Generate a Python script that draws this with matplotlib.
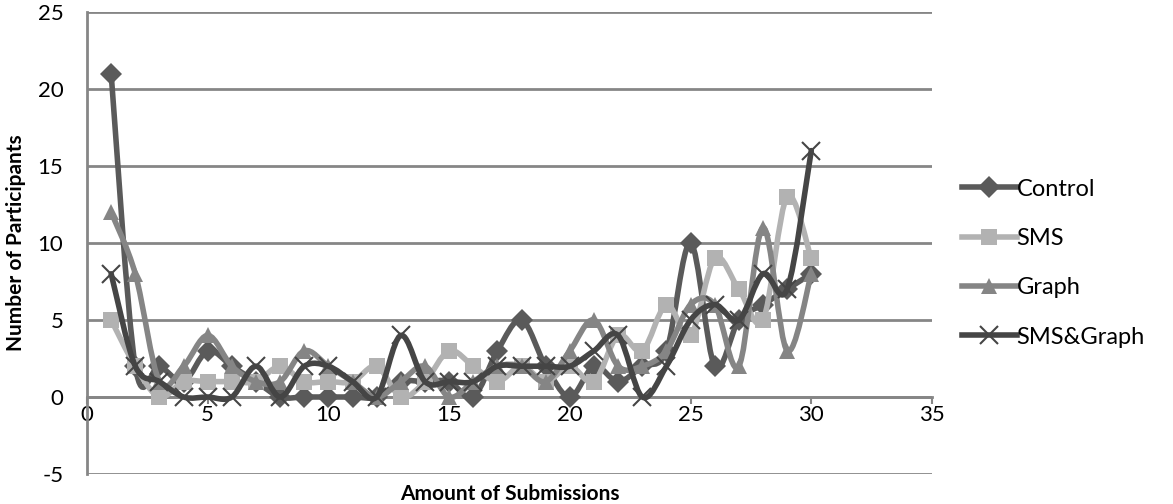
import matplotlib
matplotlib.use('Agg')
import matplotlib.pyplot as plt
from matplotlib.path import Path
from matplotlib.patches import PathPatch
from matplotlib.lines import Line2D

submissions = list(range(1, 31))
control = [21, 2, 2, 1, 3, 2, 1, 0, 0, 0, 0, 0, 1, 1, 1, 0, 3, 5, 2, 0,
           2, 1, 2, 3, 10, 2, 5, 6, 7, 8]
sms = [5, 2, 0, 1, 1, 1, 1, 2, 1, 1, 1, 2, 0, 1, 3, 2, 1, 2, 1, 2,
       1, 4, 3, 6, 4, 9, 7, 5, 13, 9]
graph = [12, 8, 1, 2, 4, 2, 1, 1, 3, 2, 1, 0, 1, 2, 0, 1, 2, 2, 1, 3,
         5, 2, 2, 3, 6, 6, 2, 11, 3, 8]
sms_graph = [8, 2, 1, 0, 0, 0, 2, 0, 2, 2, 1, 0, 4, 1, 1, 1, 2, 2, 2, 2,
             3, 4, 0, 2, 5, 6, 5, 8, 7, 16]

series_names = ['Control', 'SMS', 'Graph', 'SMS&Graph']
series_values = [control, sms, graph, sms_graph]
colors = ['#5a5a5a', '#b2b2b2', '#858585', '#454545']
markers = ['D', 's', '^', 'x']
msizes = [11, 11, 12, 13]

plt.rcParams['font.family'] = ['Lato', 'DejaVu Sans']
plt.rcParams['axes.unicode_minus'] = False


def smooth_path(xs, ys):
    n = len(xs)
    verts = [(xs[0], ys[0])]
    codes = [Path.MOVETO]
    for i in range(n - 1):
        a = i - 1 if i > 0 else i
        d = i + 2 if i + 2 < n else i + 1
        c1 = (xs[i] + (xs[i + 1] - xs[a]) / 6.0, ys[i] + (ys[i + 1] - ys[a]) / 6.0)
        c2 = (xs[i + 1] - (xs[d] - xs[i]) / 6.0, ys[i + 1] - (ys[d] - ys[i]) / 6.0)
        verts += [c1, c2, (xs[i + 1], ys[i + 1])]
        codes += [Path.CURVE4] * 3
    return Path(verts, codes)


fig = plt.figure(figsize=(11.73, 5.04), dpi=100)
ax = fig.add_axes([87 / 1173, 1 - 474 / 504, (932 - 87) / 1173, (474 - 12) / 504])

ax.set_xlim(0, 35)
ax.set_ylim(-5, 25)
ax.set_xticks(range(0, 36, 5))
ax.set_yticks(range(-5, 26, 5))
ax.yaxis.grid(True, color='#868686', linewidth=2)
ax.set_axisbelow(True)

for sp in ['top', 'right']:
    ax.spines[sp].set_visible(False)
ax.spines['left'].set_color('#868686')
ax.spines['left'].set_linewidth(2)
ax.spines['bottom'].set_position(('data', 0))
ax.spines['bottom'].set_color('#868686')
ax.spines['bottom'].set_linewidth(2)
ax.tick_params(axis='y', length=0, labelsize=16, pad=17)
ax.tick_params(axis='x', length=5, width=1.5, color='#868686', labelsize=16, pad=1)

handles = []
for k, (name, vals) in enumerate(zip(series_names, series_values)):
    patch = PathPatch(smooth_path(submissions, vals), fill=False,
                      edgecolor=colors[k], linewidth=4.0, zorder=3 + k,
                      capstyle='round', joinstyle='round')
    ax.add_patch(patch)
    if markers[k] == 'x':
        ax.plot(submissions, vals, linestyle='none', marker='x',
                markersize=msizes[k], markeredgewidth=1.5,
                color=colors[k], zorder=3 + k)
    else:
        ax.plot(submissions, vals, linestyle='none', marker=markers[k],
                markersize=msizes[k], markeredgewidth=0,
                color=colors[k], zorder=3 + k)
    handles.append(Line2D([0], [0], color=colors[k], linewidth=4.0,
                          marker=markers[k], markersize=msizes[k],
                          markeredgewidth=1.5 if markers[k] == 'x' else 0))

fig.text(16 / 1173, 1 - 243 / 504, 'Number of Participants', fontsize=15,
         fontweight='bold', rotation=90, ha='center', va='center')
fig.text(510 / 1173, 1 - 494 / 504, 'Amount of Submissions', fontsize=15,
         fontweight='bold', ha='center', va='center')

fig.legend(handles, series_names, loc='center left',
           bbox_to_anchor=(941 / 1173, 1 - 263 / 504), frameon=False,
           fontsize=17, handlelength=2.3, handletextpad=0.0,
           labelspacing=1.2)

fig.savefig('out.png', dpi=100)
